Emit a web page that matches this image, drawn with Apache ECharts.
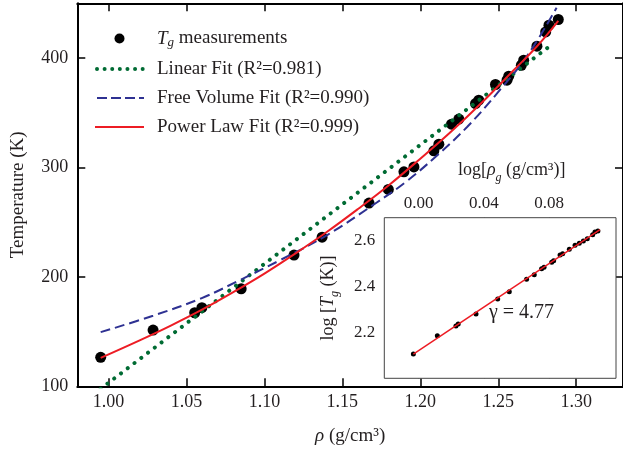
<!DOCTYPE html>
<html><head><meta charset="utf-8">
<script src="https://cdn.jsdelivr.net/npm/echarts@6/dist/echarts.min.js"></script>
<style>html,body{margin:0;padding:0;background:#fff}#c{width:623px;height:453px}</style>
</head><body><div id="c"></div>
<script>
// ---- main panel data: density (g/cm3) vs Tg (K)
const rho = [0.995, 1.0286, 1.0553, 1.0599, 1.0851, 1.119, 1.137, 1.1671, 1.1795, 1.1895, 1.1959, 1.2087, 1.2119, 1.22, 1.2247, 1.2354, 1.2375, 1.2482, 1.2556, 1.2567, 1.2648, 1.2663, 1.2748, 1.2804, 1.2825, 1.2885];
const Tg = [126.5, 151.4, 167.2, 171.8, 189.1, 219.9, 236.3, 267.4, 279.9, 296, 300.5, 315.2, 321.3, 339.5, 344.2, 358.4, 361.5, 375.8, 379.7, 383.4, 393.4, 398, 410.8, 423.8, 430, 435.2];
// linear fit
const linRho = [0.995, 1.2845];
const linT = [97.7, 412.5];
// free volume fit
const fvRho = [0.995, 1.0286, 1.0595, 1.0842, 1.1097, 1.14, 1.1721, 1.19, 1.21, 1.23, 1.25, 1.2695, 1.2874];
const fvT = [149.5, 164.5, 180.4, 197, 215, 238, 268, 286, 310, 337, 369, 404, 446];
// power law fit
const plRho = [0.995, 1.02, 1.04, 1.06, 1.08, 1.10, 1.12, 1.14, 1.16, 1.18, 1.20, 1.22, 1.24, 1.26, 1.275, 1.2885];
const plT = [126, 142, 155.5, 170, 186, 203, 221.5, 241, 262, 284, 308, 333, 360, 389, 411, 434];
// ---- inset data: log(rho) vs log(Tg)
const logRho = [-0.0032, 0.0115, 0.0229, 0.0243, 0.0352, 0.0485, 0.0556, 0.0662, 0.0709, 0.0754, 0.0769, 0.0816, 0.0828, 0.0867, 0.0883, 0.0924, 0.0959, 0.0985, 0.1010, 0.1034, 0.1067, 0.1081, 0.1099];
const logT = [2.1059, 2.1858, 2.2280, 2.2367, 2.2803, 2.3457, 2.3776, 2.4314, 2.4517, 2.4779, 2.4837, 2.5055, 2.5128, 2.5375, 2.5433, 2.5622, 2.5796, 2.5884, 2.5985, 2.6087, 2.6261, 2.6377, 2.6421];
const gammaFitX = [-0.0032, 0.1112];
const gammaFitY = [2.105, 2.648];
// ---- ticks
const mainXTicks = [1.00, 1.05, 1.10, 1.15, 1.20, 1.25, 1.30];
const mainYTicks = [100, 200, 300, 400];
const insetXTicks = [0.00, 0.04, 0.08];
const insetYTicks = [2.2, 2.4, 2.6];

const zip = (a, b) => a.map((v, i) => [v, b[i]]);
const F = 'Liberation Serif';
const TXT = '#231f20';
const GREEN = '#006b33', BLUE = '#2e3192', RED = '#ed1c24';
function richSet(size, lh) {
  return {
    n: {fontFamily: F, fontSize: size, color: TXT, lineHeight: lh, verticalAlign: 'middle'},
    it: {fontFamily: F, fontSize: size, fontStyle: 'italic', color: TXT, lineHeight: lh, verticalAlign: 'middle'},
    sub: {fontFamily: F, fontSize: Math.round(size * 0.68), fontStyle: 'italic', color: TXT, verticalAlign: 'bottom'}
  };
}
const legendLabels = {
  Tg: '{it|T}{sub|g}{n| measurements}',
  Linear: '{n|Linear Fit (R²=0.981)}',
  FreeVolume: '{n|Free Volume Fit (R²=0.990)}',
  PowerLaw: '{n|Power Law Fit (R²=0.999)}'
};

const chart = echarts.init(document.getElementById('c'));
const tickMain = {show: true, inside: true, length: 8, lineStyle: {color: '#000', width: 1.5}};
const tickInset = {show: true, inside: true, length: 6, lineStyle: {color: '#555', width: 1}};
chart.setOption({
  animation: false,
  backgroundColor: '#fff',
  textStyle: {fontFamily: F},
  grid: [
    {left: 77.3, top: 3.3, width: 547.7, height: 383},
    {left: 384.3, top: 217.7, width: 231.7, height: 160.6, show: true, backgroundColor: '#fff', borderColor: '#444', borderWidth: 1, z: 5}
  ],
  legend: {
    data: [
      {name: 'Tg'},
      {name: 'Linear', lineStyle: {color: GREEN, width: 4, type: [0.01, 7.6], cap: 'round', dashOffset: -2}},
      {name: 'FreeVolume', lineStyle: {color: BLUE, width: 2, type: [10, 4]}},
      {name: 'PowerLaw', lineStyle: {color: RED, width: 2}}
    ],
    orient: 'vertical', left: 93, top: 29, padding: 0, itemWidth: 49, itemHeight: 10, itemGap: 10,
    selectedMode: false,
    formatter: n => legendLabels[n],
    textStyle: {fontFamily: F, fontSize: 19, color: TXT, padding: [0, 0, 0, 8], rich: richSet(19, 22)}
  },
  xAxis: [
    {gridIndex: 0, type: 'value', position: 'bottom', min: 0.98, max: 1.33,
     axisLine: {show: true, onZero: false, lineStyle: {color: '#000', width: 2}},
     axisTick: Object.assign({customValues: mainXTicks}, tickMain),
     axisLabel: {customValues: mainXTicks, formatter: v => v.toFixed(2), fontFamily: F, fontSize: 18, color: TXT, margin: 7},
     splitLine: {show: false},
     name: '{it|ρ}{n| (g/cm³)}', nameLocation: 'middle', nameGap: 39,
     nameTextStyle: {rich: richSet(19, 22)}},
    {gridIndex: 0, type: 'value', position: 'top', min: 0.98, max: 1.33,
     axisLine: {show: true, onZero: false, lineStyle: {color: '#000', width: 2}},
     axisTick: Object.assign({customValues: mainXTicks}, tickMain),
     axisLabel: {show: false}, splitLine: {show: false}},
    {gridIndex: 1, type: 'value', position: 'top', min: -0.021, max: 0.121,
     axisLine: {show: false},
     axisTick: Object.assign({customValues: insetXTicks}, tickInset),
     axisLabel: {customValues: insetXTicks, formatter: v => v.toFixed(2), fontFamily: F, fontSize: 17, color: TXT, margin: 6},
     splitLine: {show: false},
     name: '{n|log[}{it|ρ}{sub|g}{n| (g/cm³)]}', nameLocation: 'middle', nameGap: 34,
     nameTextStyle: {rich: richSet(18, 26), padding: [0, 0, 0, 23]}},
    {gridIndex: 1, type: 'value', position: 'bottom', min: -0.021, max: 0.121,
     axisLine: {show: false},
     axisTick: Object.assign({customValues: insetXTicks}, tickInset),
     axisLabel: {show: false}, splitLine: {show: false}}
  ],
  yAxis: [
    {gridIndex: 0, type: 'value', position: 'left', min: 100, max: 450,
     axisLine: {show: true, onZero: false, lineStyle: {color: '#000', width: 2}},
     axisTick: Object.assign({customValues: mainYTicks}, tickMain),
     axisLabel: {customValues: mainYTicks, fontFamily: F, fontSize: 18, color: TXT, margin: 9},
     splitLine: {show: false},
     name: 'Temperature (K)', nameLocation: 'middle', nameGap: 50,
     nameTextStyle: {fontFamily: F, fontSize: 19, color: TXT}},
    {gridIndex: 0, type: 'value', position: 'right', min: 100, max: 450,
     axisLine: {show: true, onZero: false, lineStyle: {color: '#000', width: 2}},
     axisTick: Object.assign({customValues: mainYTicks}, tickMain),
     axisLabel: {show: false}, splitLine: {show: false}},
    {gridIndex: 1, type: 'value', position: 'left', min: 2.0, max: 2.7,
     axisLine: {show: false},
     axisTick: Object.assign({customValues: insetYTicks}, tickInset),
     axisLabel: {customValues: insetYTicks, formatter: v => v.toFixed(1), fontFamily: F, fontSize: 17, color: TXT, margin: 9},
     splitLine: {show: false},
     name: '{n|log [}{it|T}{sub|g}{n| (K)]}', nameLocation: 'middle', nameGap: 43,
     nameTextStyle: {rich: richSet(18, 26)}},
    {gridIndex: 1, type: 'value', position: 'right', min: 2.0, max: 2.7,
     axisLine: {show: false},
     axisTick: Object.assign({customValues: insetYTicks}, tickInset),
     axisLabel: {show: false}, splitLine: {show: false}}
  ],
  graphic: [
    {type: 'text', left: 489, top: 303, z: 100,
     style: {text: 'γ = 4.77', font: '20px "Liberation Serif"', fill: TXT}}
  ],
  series: [
    {name: 'Tg', type: 'scatter', xAxisIndex: 0, yAxisIndex: 0, data: zip(rho, Tg),
     symbolSize: 11, itemStyle: {color: '#000', opacity: 1}, z: 2},
    {name: 'Linear', type: 'line', xAxisIndex: 0, yAxisIndex: 0, data: zip(linRho, linT),
     symbol: 'none', itemStyle: {color: GREEN, opacity: 0},
     lineStyle: {color: GREEN, width: 4, type: [0.01, 8.5], cap: 'round', opacity: 1}, z: 3},
    {name: 'FreeVolume', type: 'line', xAxisIndex: 0, yAxisIndex: 0, data: zip(fvRho, fvT), smooth: 0.4,
     symbol: 'none', itemStyle: {color: BLUE, opacity: 0},
     lineStyle: {color: BLUE, width: 2, type: [10, 5], opacity: 1}, z: 3},
    {name: 'PowerLaw', type: 'line', xAxisIndex: 0, yAxisIndex: 0, data: zip(plRho, plT), smooth: 0.4,
     symbol: 'none', itemStyle: {color: RED, opacity: 0},
     lineStyle: {color: RED, width: 2, opacity: 1}, z: 4},
    {name: 'inset points', type: 'scatter', xAxisIndex: 2, yAxisIndex: 2, data: zip(logRho, logT),
     symbolSize: 5, itemStyle: {color: '#000', opacity: 1}, z: 6},
    {name: 'inset fit', type: 'line', xAxisIndex: 2, yAxisIndex: 2, data: zip(gammaFitX, gammaFitY),
     symbol: 'none', lineStyle: {color: RED, width: 1.5}, z: 7}
  ]
});
</script></body></html>
